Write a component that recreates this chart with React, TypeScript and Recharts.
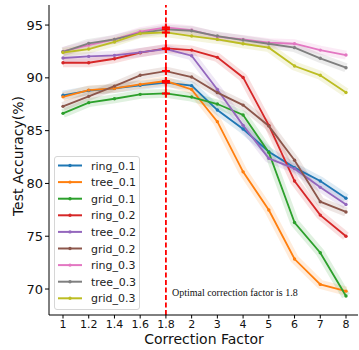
import { CartesianGrid, Line, LineChart, ReferenceLine, XAxis, YAxis } from "recharts";

// correction factors on the x axis (evenly spaced categories)
const factors = ["1", "1.2", "1.4", "1.6", "1.8", "2", "3", "4", "5", "6", "7", "8"];
const yTicks = [70, 75, 80, 85, 90, 95];

const ring01 = [88.35, 88.8, 89.0, 89.3, 89.55, 89.26, 86.95, 85.15, 83.0, 81.5, 80.23, 78.6];
const tree01 = [88.2, 88.84, 89.0, 89.38, 89.7, 88.9, 85.85, 81.1, 77.48, 72.84, 70.44, 69.8];
const grid01 = [86.64, 87.65, 88.02, 88.44, 88.53, 88.18, 87.52, 86.48, 82.94, 76.3, 73.44, 69.34];
const ring02 = [91.43, 91.43, 91.81, 92.38, 92.79, 92.63, 91.94, 90.04, 85.5, 80.23, 77.0, 75.0];
const tree02 = [91.88, 92.03, 92.13, 92.41, 92.73, 92.1, 88.9, 85.5, 82.37, 81.4, 79.63, 78.0];
const grid02 = [87.3, 88.25, 89.22, 90.24, 90.64, 90.08, 88.6, 87.42, 85.44, 82.2, 78.27, 77.3];
const ring03 = [92.5, 93.1, 93.64, 94.37, 94.78, 94.53, 93.9, 93.64, 93.33, 93.23, 92.63, 92.16];
const tree03 = [92.47, 93.27, 93.64, 94.24, 94.6, 94.46, 93.96, 93.58, 93.23, 92.86, 91.85, 90.96];
const grid03 = [92.4, 92.73, 93.4, 94.2, 94.3, 93.96, 93.64, 93.23, 92.86, 91.12, 90.24, 88.62];

const series = [
  { name: "ring_0.1", color: "#1f77b4", values: ring01 },
  { name: "tree_0.1", color: "#ff7f0e", values: tree01 },
  { name: "grid_0.1", color: "#2ca02c", values: grid01 },
  { name: "ring_0.2", color: "#d62728", values: ring02 },
  { name: "tree_0.2", color: "#9467bd", values: tree02 },
  { name: "grid_0.2", color: "#8c564b", values: grid02 },
  { name: "ring_0.3", color: "#e377c2", values: ring03 },
  { name: "tree_0.3", color: "#7f7f7f", values: tree03 },
  { name: "grid_0.3", color: "#bcbd22", values: grid03 },
];

const data = factors.map((f, i) => {
  const row: Record<string, string | number> = { factor: f };
  series.forEach((s) => (row[s.name] = s.values[i]));
  return row;
});

const OPTIMAL = "1.8";

const makeDot = (color: string) => (p: any) => {
  const { cx, cy, index } = p;
  if (cx == null || cy == null) return <g key={`d${index}`} />;
  return (
    <g key={`d${index}`}>
      <circle cx={cx} cy={cy} r={1.7} fill={color} />
      {factors[index] === OPTIMAL && (
        <path d={`M${cx - 4},${cy}h8M${cx},${cy - 4}v8`} stroke="#ff0000" strokeWidth={2} />
      )}
    </g>
  );
};

function LegendBox() {
  return (
    <div
      style={{
        position: "absolute",
        left: 54,
        top: 156,
        width: 86,
        height: 154,
        border: "1px solid #d6d6d6",
        borderRadius: 3,
        background: "rgba(255,255,255,0.85)",
        boxSizing: "border-box",
      }}
    >
      <svg width={86} height={154} style={{ position: "absolute", left: -1, top: -1 }}>
        {series.map((s, i) => {
          const y = 9.5 + i * 16.6;
          return (
            <g key={s.name}>
              <line x1={4} x2={28} y1={y} y2={y} stroke={s.color} strokeWidth={2} />
              <circle cx={16} cy={y} r={1.7} fill={s.color} />
              <text x={37} y={y + 4} fontSize={11} fontFamily="DejaVu Sans" fill="#222">
                {s.name}
              </text>
            </g>
          );
        })}
      </svg>
    </div>
  );
}

export default function App() {
  return (
    <div style={{ position: "absolute", left: 0, top: 0, width: 359, height: 350, background: "#fff" }}>
      <LineChart width={359} height={350} data={data} margin={{ top: 5, right: 1, left: 0, bottom: 0 }}>
        <CartesianGrid horizontal={false} vertical={false} />
        <XAxis
          dataKey="factor"
          padding={{ left: 14, right: 12 }}
          height={35}
          interval={0}
          stroke="#000"
          tickSize={3.5}
          tickMargin={1.5}
          tick={{ fontSize: 11, fill: "#111", fontFamily: "DejaVu Sans" }}
          label={{
            content: () => (
              <text x={204} y={344} textAnchor="middle" fontSize={14} fontFamily="DejaVu Sans" fill="#111">
                Correction Factor
              </text>
            ),
          }}
        />
        <XAxis xAxisId="top" dataKey="factor" orientation="top" height={0} tick={false} tickLine={false} stroke="#000" />
        <YAxis
          width={49}
          domain={[67.54, 96.9]}
          ticks={yTicks}
          stroke="#000"
          tickSize={4}
          tickMargin={2}
          tick={{ fontSize: 13, fill: "#111", fontFamily: "DejaVu Sans" }}
          label={{
            content: () => (
              <text
                transform="translate(23,156) rotate(-90)"
                textAnchor="middle"
                fontSize={14}
                fontFamily="DejaVu Sans"
                fill="#111"
              >
                Test Accuracy(%)
              </text>
            ),
          }}
        />
        {series.map((s) => (
          <Line
            key={`band-${s.name}`}
            dataKey={s.name}
            stroke={s.color}
            strokeOpacity={0.15}
            strokeWidth={9}
            strokeLinejoin="round"
            dot={false}
            activeDot={false}
            legendType="none"
            isAnimationActive={false}
          />
        ))}
        {series.map((s) => (
          <Line
            key={s.name}
            dataKey={s.name}
            stroke={s.color}
            strokeWidth={1.8}
            dot={makeDot(s.color)}
            activeDot={false}
            isAnimationActive={false}
          />
        ))}
        <ReferenceLine
          x={OPTIMAL}
          stroke="#ff0000"
          strokeWidth={1.8}
          strokeDasharray="5 2.5"
          label={{
            content: (p: any) => {
              const vb = p.viewBox || {};
              return (
                <text
                  x={(vb.x ?? 166) + 6}
                  y={(vb.y ?? 5) + (vb.height ?? 310) - 19}
                  fontSize={10}
                  fontFamily="Liberation Serif"
                  fill="#111"
                >
                  Optimal correction factor is {OPTIMAL}
                </text>
              );
            },
          }}
        />
      </LineChart>
      <LegendBox />
    </div>
  );
}
